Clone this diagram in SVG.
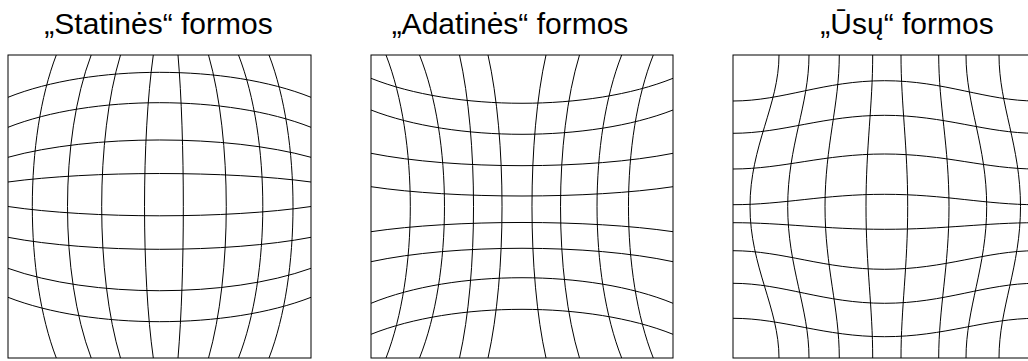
<svg xmlns="http://www.w3.org/2000/svg" width="1028" height="361" viewBox="0 0 1028 361">
<style>
.t{font-family:"Liberation Sans",Arial,sans-serif;font-size:30px;fill:#000;text-anchor:middle}
.box{fill:#fff;stroke:#000;stroke-width:1}
.g path{fill:none;stroke:#000;stroke-width:1}
</style>
<rect width="1028" height="361" fill="#fff"/>
<g id="barrel">
<text class="t" x="158.5" y="34">„Statinės“ formos</text>
<rect class="box" x="8" y="55" width="303" height="303"/>
<g class="g">
<path d="M8,97.3 C91.3,64 227.7,64 311,97.3"/>
<path d="M8,127.3 C91.3,94.5 227.7,94.5 311,127.3"/>
<path d="M8,157.3 C91.3,134.2 227.7,134.2 311,157.3"/>
<path d="M8,182 C91.3,170.7 227.7,170.7 311,182"/>
<path d="M8,206.5 C91.3,218.9 227.7,218.9 311,206.5"/>
<path d="M8,237.3 C91.3,253.3 227.7,253.3 311,237.3"/>
<path d="M8,268.3 C91.3,298.2 227.7,298.2 311,268.3"/>
<path d="M8,297.3 C91.3,329.8 227.7,329.8 311,297.3"/>
<path d="M56.3,55 C24.3,138.3 24.3,274.7 56.3,358"/>
<path d="M91.2,55 C59.6,138.3 59.6,274.7 91.2,358"/>
<path d="M120.5,55 C95.4,138.3 95.4,274.7 120.5,358"/>
<path d="M153.3,55 C141.6,138.3 141.6,274.7 153.3,358"/>
<path d="M178,55 C185.1,138.3 185.1,274.7 178,358"/>
<path d="M208.5,55 C232.2,138.3 232.2,274.7 208.5,358"/>
<path d="M238.5,55 C270.9,138.3 270.9,274.7 238.5,358"/>
<path d="M269,55 C301,138.3 301,274.7 269,358"/>
</g>
</g>
<g id="pincushion">
<text class="t" x="510" y="34">„Adatinės“ formos</text>
<rect class="box" x="371" y="55" width="302" height="303"/>
<g class="g">
<path d="M371,78.3 C454,111.6 590,111.6 673,78.3"/>
<path d="M371,110 C454,142.4 590,142.4 673,110"/>
<path d="M371,153.3 C454,169.8 590,169.8 673,153.3"/>
<path d="M371,186.7 C454,199.1 590,199.1 673,186.7"/>
<path d="M371,231.7 C454,219.4 590,219.4 673,231.7"/>
<path d="M371,261.7 C454,243.8 590,243.8 673,261.7"/>
<path d="M371,303.3 C454,269.2 590,269.2 673,303.3"/>
<path d="M371,334.3 C454,301 590,301 673,334.3"/>
<path d="M386,55 C418.4,138.3 418.4,274.7 386,358"/>
<path d="M419.5,55 C452.8,138.3 452.8,274.7 419.5,358"/>
<path d="M459.5,55 C478.2,138.3 478.2,274.7 459.5,358"/>
<path d="M488,55 C506.7,138.3 506.7,274.7 488,358"/>
<path d="M546,55 C527.3,138.3 527.3,274.7 546,358"/>
<path d="M579.5,55 C554.2,138.3 554.2,274.7 579.5,358"/>
<path d="M621.7,55 C588.8,138.3 588.8,274.7 621.7,358"/>
<path d="M653.3,55 C620.2,138.3 620.2,274.7 653.3,358"/>
</g>
</g>
<g id="mustache">
<text class="t" x="907" y="34">„Ūsų“ formos</text>
<rect class="box" x="733" y="55" width="303" height="303"/>
<g class="g">
<path d="M733,101 C783,101 823.9,80.7 884.5,80.7 S986,101 1036,101"/>
<path d="M733,133.3 C783,133.3 823.9,115.3 884.5,115.3 S986,133.3 1036,133.3"/>
<path d="M733,169 C783,169 823.9,154 884.5,154 S986,169 1036,169"/>
<path d="M733,204.7 C783,204.7 823.9,194.3 884.5,194.3 S986,204.7 1036,204.7"/>
<path d="M733,222.7 C783,222.7 823.9,229.3 884.5,229.3 S986,222.7 1036,222.7"/>
<path d="M733,250.7 C783,250.7 823.9,269.3 884.5,269.3 S986,250.7 1036,250.7"/>
<path d="M733,283.3 C783,283.3 823.9,303.3 884.5,303.3 S986,283.3 1036,283.3"/>
<path d="M733,318.3 C783,318.3 823.9,336.7 884.5,336.7 S986,318.3 1036,318.3"/>
<path d="M779,55 C779,105 750,145.9 750,206.5 S779,308 779,358"/>
<path d="M809,55 C809,105 787.7,145.9 787.7,206.5 S809,308 809,358"/>
<path d="M839.3,55 C839.3,105 825,145.9 825,206.5 S839.3,308 839.3,358"/>
<path d="M872.7,55 C872.7,105 866,145.9 866,206.5 S872.7,308 872.7,358"/>
<path d="M901,55 C901,105 907.7,145.9 907.7,206.5 S901,308 901,358"/>
<path d="M938.7,55 C938.7,105 949,145.9 949,206.5 S938.7,308 938.7,358"/>
<path d="M966,55 C966,105 986.7,145.9 986.7,206.5 S966,308 966,358"/>
<path d="M999,55 C999,105 1020.5,145.9 1020.5,206.5 S999,308 999,358"/>
</g>
</g>
</svg>
